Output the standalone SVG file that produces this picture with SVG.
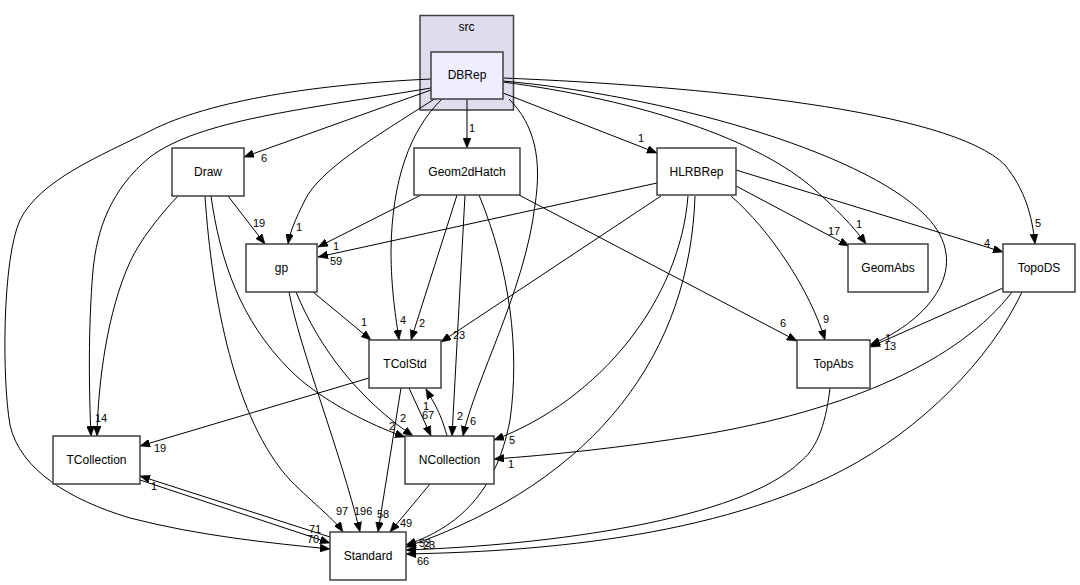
<svg xmlns="http://www.w3.org/2000/svg" width="1080" height="585" viewBox="0 0 1080 585">
<style>
.n rect{fill:#ffffff;stroke:#404040;stroke-width:1.5}
.t{font-family:"Liberation Sans",Arial,sans-serif;font-size:12px;fill:#000;text-anchor:middle}
.l{font-family:"Liberation Sans",Arial,sans-serif;font-size:11px;fill:#000}
.e path{fill:none;stroke:#000;stroke-width:1;marker-end:url(#ah)}
</style>
<defs>
<marker id="ah" markerUnits="userSpaceOnUse" markerWidth="11" markerHeight="8" refX="10" refY="4" orient="auto">
<path d="M0,0 L10,4 L0,8 z" fill="#000" stroke="#000" stroke-width="0.5"/>
</marker>
</defs>
<rect width="1080" height="585" fill="#ffffff"/>
<g id="cluster_src">
<rect x="420" y="15.5" width="93.5" height="94.5" fill="#ddddee" stroke="#404040" stroke-width="1.5"/>
<text class="t" x="466.5" y="31">src</text>
</g>
<g class="e" id="edges">
<path d="M431,90 L244,157"/>
<path d="M436,98 C370,140 320,170 305,200 C295,220 290,232 288,244"/>
<path d="M442,99 C410,130 392,180 391,250 C391,290 396,318 399,340"/>
<path d="M467,99 L467,148"/>
<path d="M503,93 L657,153"/>
<path d="M509,99 C535,125 542,160 535,205 C525,290 475,380 463,436"/>
<path d="M503,82 C640,100 760,140 815,190 C840,212 856,230 866,244"/>
<path d="M503,81 C660,95 860,150 925,215 C975,265 930,320 870,345"/>
<path d="M503,78 C700,86 950,110 1005,165 C1025,190 1032,215 1035,244"/>
<path d="M431,88 C300,110 200,120 150,157 C110,190 97,230 93,270 C88,330 89,390 91,436"/>
<path d="M431,79 C320,84 210,100 150,131 C100,156 40,180 20,220 C2,260 2,380 10,425 C20,470 70,500 130,518 C200,536 270,543 330,549"/>
<path d="M228,196 L265,244"/>
<path d="M178,196 C160,215 140,240 130,262 C108,310 98,380 97,436"/>
<path d="M205,196 C212,300 235,420 290,480 C315,505 335,520 343,532"/>
<path d="M211,196 C220,260 240,320 290,370 C320,400 370,425 405,437"/>
<path d="M313,292 L371,340"/>
<path d="M289,292 C300,350 340,450 360,532"/>
<path d="M296,292 C320,350 360,400 413,436"/>
<path d="M421,195 L318,247"/>
<path d="M457,195 L411,340"/>
<path d="M465,195 L452,436"/>
<path d="M479,195 C510,270 520,350 510,420 C495,500 450,530 406,545"/>
<path d="M519,195 L797,341"/>
<path d="M657,183 L318,257"/>
<path d="M661,196 L441,342"/>
<path d="M688,196 C680,300 600,400 494,440"/>
<path d="M695,196 C690,350 600,480 406,547"/>
<path d="M736,186 L849,246"/>
<path d="M736,170 L1003,252"/>
<path d="M731,196 C770,230 810,290 825,340"/>
<path d="M369,378 L140,446"/>
<path d="M401,388 L378,532"/>
<path d="M409,388 L431,436"/>
<path d="M447,436 C440,410 432,400 426,389"/>
<path d="M430,484 L390,532"/>
<path d="M140,480 L330,543"/>
<path d="M330,537 L140,476"/>
<path d="M830,388 C825,430 815,450 800,462 C740,520 550,545 406,550"/>
<path d="M1003,288 L870,347"/>
<path d="M1012,292 C960,360 850,410 700,435 C620,448 550,455 494,459"/>
<path d="M1022,292 C990,360 920,430 843,470 C700,545 500,552 406,554"/>
</g>
<g id="labels">
<text class="l" x="261" y="162">6</text>
<text class="l" x="253" y="227">19</text>
<text class="l" x="296" y="231">1</text>
<text class="l" x="333" y="250">1</text>
<text class="l" x="330" y="265">59</text>
<text class="l" x="469" y="132">1</text>
<text class="l" x="638" y="142">1</text>
<text class="l" x="828" y="235">17</text>
<text class="l" x="856" y="228">1</text>
<text class="l" x="984" y="247">4</text>
<text class="l" x="1035" y="227">5</text>
<text class="l" x="780" y="327">6</text>
<text class="l" x="823" y="323">9</text>
<text class="l" x="885" y="342">1</text>
<text class="l" x="884" y="350">13</text>
<text class="l" x="361" y="326">1</text>
<text class="l" x="400" y="324">4</text>
<text class="l" x="419" y="327">2</text>
<text class="l" x="453" y="339">23</text>
<text class="l" x="389" y="430">2</text>
<text class="l" x="400" y="422">2</text>
<text class="l" x="423" y="410">1</text>
<text class="l" x="422" y="419">67</text>
<text class="l" x="457" y="420">2</text>
<text class="l" x="470" y="425">6</text>
<text class="l" x="509" y="444">5</text>
<text class="l" x="508" y="468">1</text>
<text class="l" x="336" y="515">97</text>
<text class="l" x="354" y="515">196</text>
<text class="l" x="377" y="518">58</text>
<text class="l" x="400" y="527">49</text>
<text class="l" x="309" y="533">71</text>
<text class="l" x="307" y="543">70</text>
<text class="l" x="419" y="547">53</text>
<text class="l" x="423" y="549">23</text>
<text class="l" x="417" y="565">66</text>
<text class="l" x="95" y="422">14</text>
<text class="l" x="154" y="452">19</text>
<text class="l" x="151" y="490">1</text>
</g>
<g id="DBRep" class="n"><rect x="431" y="52" width="72" height="47" style="fill:#eeeeff"/><text class="t" x="467" y="79">DBRep</text></g>
<g id="Draw" class="n"><rect x="172" y="148" width="72" height="48"/><text class="t" x="208" y="176">Draw</text></g>
<g id="Geom2dHatch" class="n"><rect x="414" y="148" width="106" height="47"/><text class="t" x="467" y="175.5">Geom2dHatch</text></g>
<g id="HLRBRep" class="n"><rect x="657" y="148" width="79" height="47"/><text class="t" x="696.5" y="175.5">HLRBRep</text></g>
<g id="gp" class="n"><rect x="246" y="244" width="71" height="48"/><text class="t" x="281.5" y="272">gp</text></g>
<g id="GeomAbs" class="n"><rect x="848" y="244" width="80" height="48"/><text class="t" x="888" y="272">GeomAbs</text></g>
<g id="TopoDS" class="n"><rect x="1003" y="244" width="72" height="48"/><text class="t" x="1039" y="272">TopoDS</text></g>
<g id="TColStd" class="n"><rect x="369" y="340" width="72" height="48"/><text class="t" x="405" y="368">TColStd</text></g>
<g id="TopAbs" class="n"><rect x="797" y="340" width="73" height="48"/><text class="t" x="833.5" y="368">TopAbs</text></g>
<g id="TCollection" class="n"><rect x="53" y="436" width="87" height="48"/><text class="t" x="96.5" y="464">TCollection</text></g>
<g id="NCollection" class="n"><rect x="405" y="436" width="89" height="48"/><text class="t" x="449.5" y="464">NCollection</text></g>
<g id="Standard" class="n"><rect x="330" y="532" width="76" height="48"/><text class="t" x="368" y="560">Standard</text></g>
</svg>
